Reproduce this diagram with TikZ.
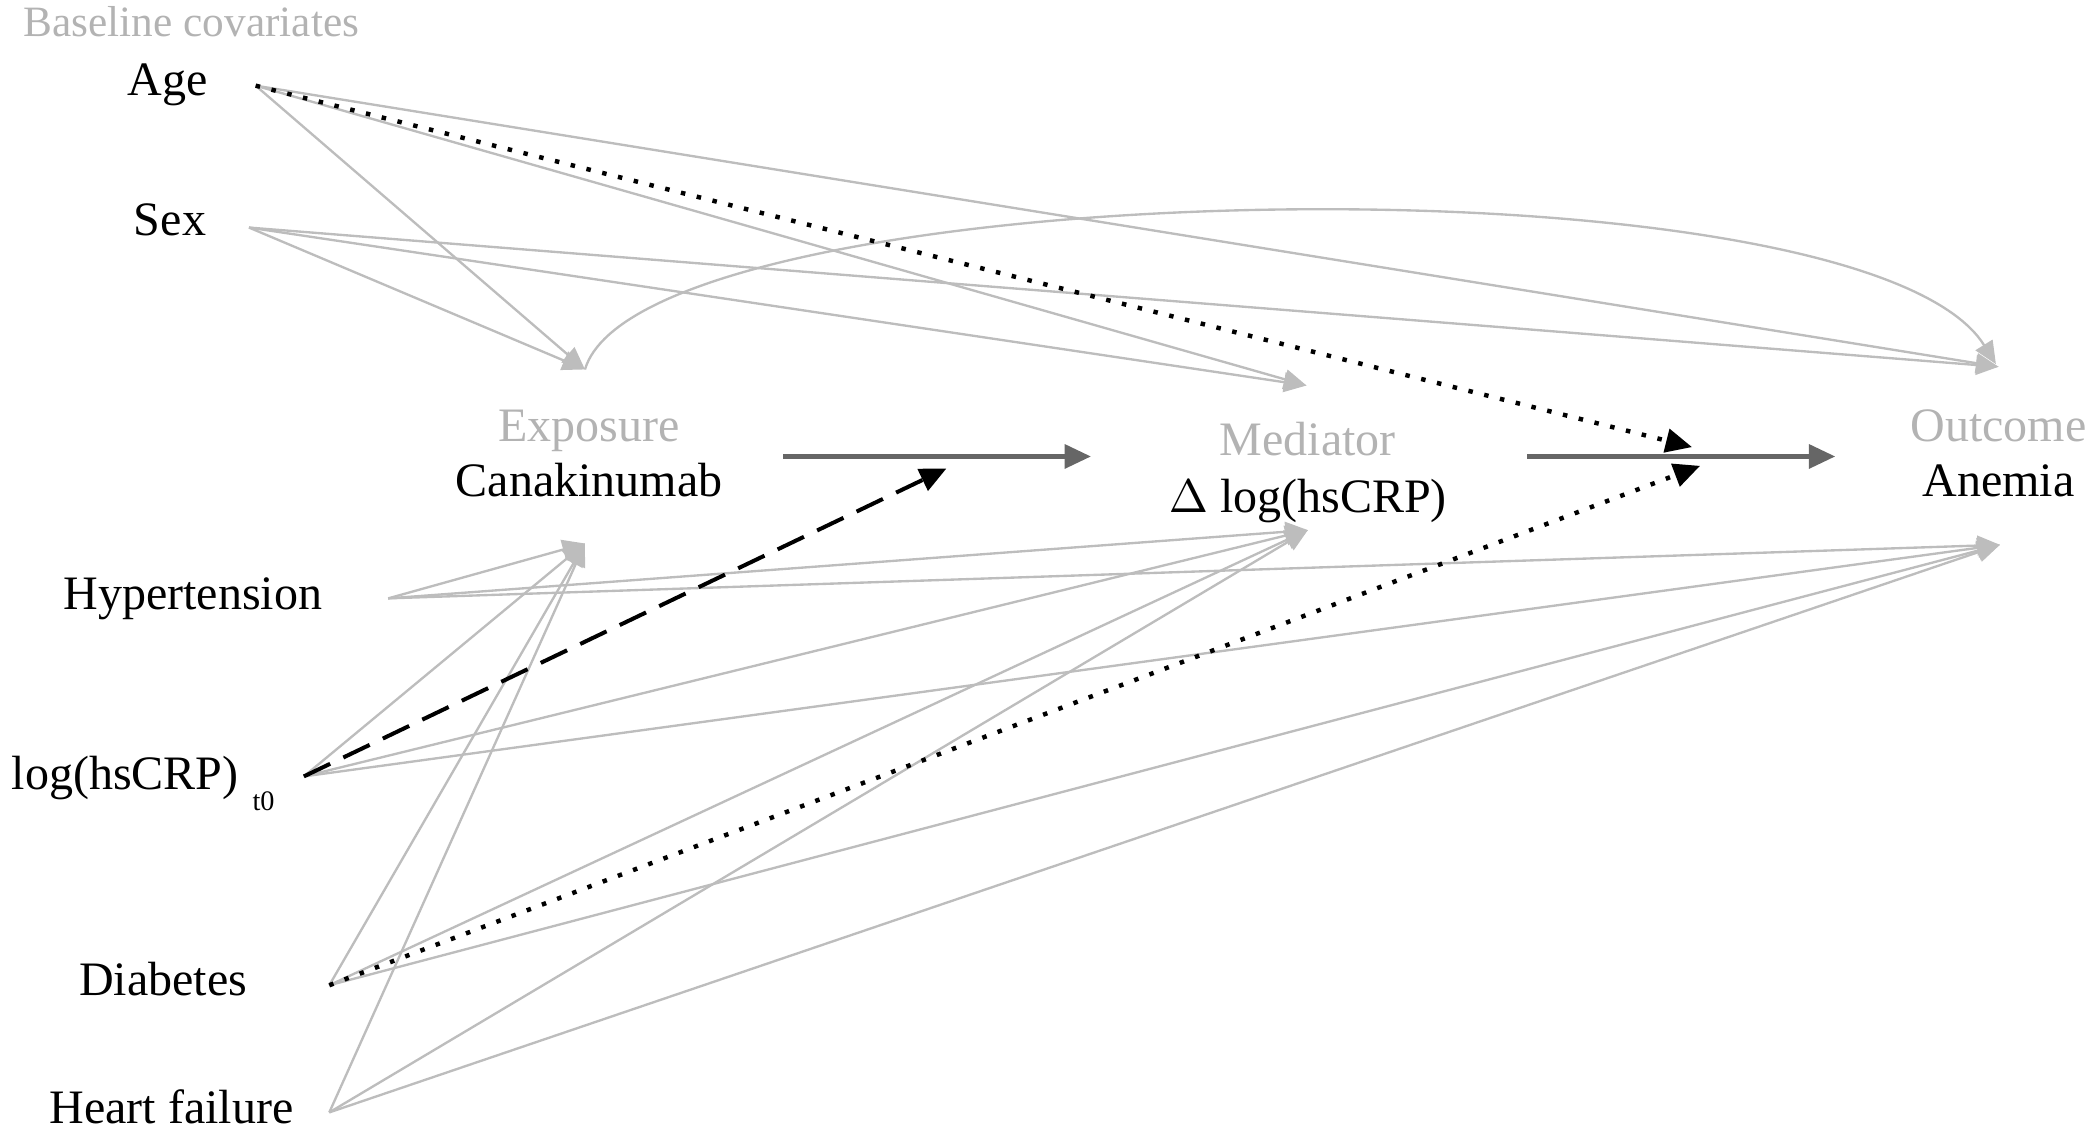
\documentclass[tikz,border=0pt]{standalone}
\usepackage{fontspec}
\setmainfont{Liberation Serif}
\usetikzlibrary{arrows.meta}
\definecolor{edgegray}{HTML}{BDBDBD}
\definecolor{labgray}{HTML}{B3B3B3}
\definecolor{maingray}{HTML}{666666}
\tikzset{
  lab/.style={anchor=base, inner sep=0pt, font=\fontsize{10.2pt}{12pt}\selectfont, text=black},
  grlab/.style={anchor=base, inner sep=0pt, font=\fontsize{10.2pt}{12pt}\selectfont, text=labgray},
  gedge/.style={draw=edgegray, line width=0.5pt, -{Triangle[length=4.8pt,width=4.2pt]}},
  medge/.style={draw=maingray, line width=1pt, -{Triangle[length=5.6pt,width=5pt]}},
  dotedge/.style={draw=black, line width=0.95pt, dash pattern=on 0.95pt off 2.5pt, -{Triangle[length=5.6pt,width=5pt]}},
  dashedge/.style={draw=black, line width=0.85pt, dash pattern=on 6.2pt off 3.1pt, -{Triangle[length=5.6pt,width=5pt]}}
}
\begin{document}
\begin{tikzpicture}[x=0.01cm,y=-0.01cm]
\useasboundingbox (0,0) rectangle (1568,846);
% labels
\node[grlab, anchor=base west, font=\fontsize{9.2pt}{12pt}\selectfont] (base) at (17,27) {Baseline covariates};
\node[lab] (age) at (125,71) {Age};
\node[lab] (sex) at (127,176) {Sex};
\node[grlab] (exposure) at (440,330) {Exposure};
\node[lab] (cana) at (440,371) {Canakinumab};
\node[grlab] (mediator) at (977,340) {Mediator};
\node[lab] (dcrp) at (977,383) {$\Delta$ log(hsCRP)};
\node[grlab] (outcome) at (1493,330) {Outcome};
\node[lab] (anemia) at (1493,371) {Anemia};
\node[lab] (htn) at (144,455) {Hypertension};
\node[lab, anchor=base west] (crp) at (8,590) {log(hsCRP)\hspace{3pt}\raisebox{-4.5pt}{\fontsize{6pt}{7pt}\selectfont t0}};
\node[lab] (dm) at (122,744) {Diabetes};
\node[lab] (hf) at (128,839) {Heart failure};
% ports
\coordinate (ageP) at (191,64);
\coordinate (sexP) at (186,170);
\coordinate (htnP) at (290,447);
\coordinate (crpP) at (227,580);
\coordinate (dmP) at (246,736);
\coordinate (hfP) at (246,831);
\coordinate (expT) at (437,276);
\coordinate (expB) at (437,406);
\coordinate (medT) at (976,288);
\coordinate (medB) at (977,396);
\coordinate (outT) at (1493,274);
\coordinate (outTc) at (1491,272);
\coordinate (outB) at (1494,407);
\coordinate (emS) at (585,341);
\coordinate (emE) at (815,341);
\coordinate (moS) at (1141,341);
\coordinate (moE) at (1371,341);
\coordinate (emMid) at (707,350);
\coordinate (moMidA) at (1264,334);
\coordinate (moMidB) at (1270,348);
% gray edges
\foreach \s in {ageP,sexP}{
  \draw[gedge] (\s) -- (expT);
  \draw[gedge] (\s) -- (medT);
  \draw[gedge] (\s) -- (outT);
}
\foreach \s in {htnP,crpP,dmP,hfP}{
  \draw[gedge] (\s) -- (expB);
  \draw[gedge] (\s) -- (medB);
  \draw[gedge] (\s) -- (outB);
}
\draw[gedge] (expT) .. controls (480,130) and (1390,110) .. (outTc);
% main edges
\draw[medge] (emS) -- (emE);
\draw[medge] (moS) -- (moE);
% modifiers
\draw[dashedge] (crpP) -- (emMid);
\draw[dotedge] (ageP) -- (moMidA);
\draw[dotedge] (dmP) -- (moMidB);
\end{tikzpicture}
\end{document}
